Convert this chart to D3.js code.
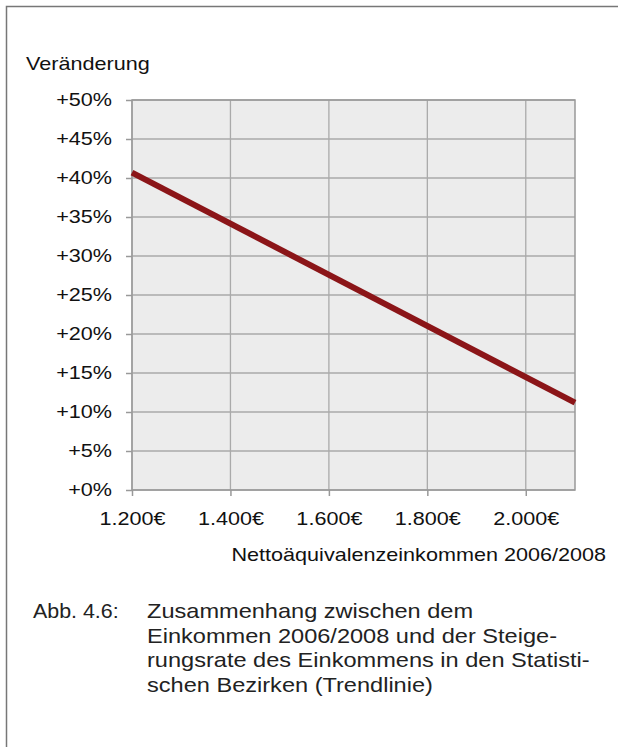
<!DOCTYPE html>
<html>
<head>
<meta charset="utf-8">
<script src="https://cdn.jsdelivr.net/npm/d3@7"></script>
<style>
  body { margin: 0; background: #fff; }
  svg { display: block; font-family: "Liberation Sans", Arial, sans-serif; }
</style>
</head>
<body>
<svg width="618" height="747"></svg>
<script>
// trendline end points (income in EUR, change in %)
const incomes = [1200, 2100];
const changes = [40.7, 11.2];
const xTicks = [1200, 1400, 1600, 1800, 2000];
const yTicks = [0, 5, 10, 15, 20, 25, 30, 35, 40, 45, 50];
const captionLines = [
  "Zusammenhang zwischen dem",
  "Einkommen 2006/2008 und der Steige-",
  "rungsrate des Einkommens in den Statisti-",
  "schen Bezirken (Trendlinie)"
];

const svg = d3.select("svg");
const margin = {top: 100, left: 132, right: 618 - 575, bottom: 747 - 490};
const width = 618 - margin.left - margin.right;
const height = 747 - margin.top - margin.bottom;
const SX = 1.2; // the original text is a bit wider than it is tall

// stretch text horizontally around its own x
function stretch(sel, k) {
  sel.each(function() {
    const t = d3.select(this);
    const tx = +t.attr("x") || 0;
    const ty = +t.attr("y") || 0;
    t.attr("x", 0).attr("y", 0)
     .attr("transform", "translate(" + tx + "," + ty + ") scale(" + k + ",1)");
  });
}

// outer frame (only left and top are visible in the crop)
svg.append("rect")
  .attr("x", 6.5).attr("y", 6.5)
  .attr("width", 640).attr("height", 780)
  .attr("fill", "none").attr("stroke", "#777").attr("stroke-width", 1.5);

const x = d3.scaleLinear().domain([1200, 2100]).range([0, width]);
const y = d3.scaleLinear().domain([0, 50]).range([height, 0]);

const g = svg.append("g").attr("transform", "translate(" + margin.left + "," + margin.top + ")");

g.append("rect").attr("width", width).attr("height", height).attr("fill", "#ececec");

// grid
g.selectAll(".hgrid").data(yTicks).enter().append("line")
  .attr("x1", 0).attr("x2", width)
  .attr("y1", d => y(d)).attr("y2", d => y(d))
  .attr("stroke", "#aaa").attr("stroke-width", 1.3);
g.selectAll(".vgrid").data(xTicks).enter().append("line")
  .attr("y1", 0).attr("y2", height)
  .attr("x1", d => x(d)).attr("x2", d => x(d))
  .attr("stroke", "#aaa").attr("stroke-width", 1.3);

g.append("rect").attr("width", width).attr("height", height)
  .attr("fill", "none").attr("stroke", "#999").attr("stroke-width", 1.5);

const fmtEuro = d => d3.format(",")(d).replace(",", ".") + "€";

const yAxis = g.append("g")
  .call(d3.axisLeft(y).tickValues(yTicks).tickSize(6).tickPadding(14)
    .tickFormat(d => "+" + d + "%"));
const xAxis = g.append("g")
  .attr("transform", "translate(0," + height + ")")
  .call(d3.axisBottom(x).tickValues(xTicks).tickSize(6).tickPadding(16).tickFormat(fmtEuro));

[yAxis, xAxis].forEach(a => {
  a.select(".domain").remove();
  a.selectAll(".tick line").attr("stroke", "#999").attr("stroke-width", 1.5);
  a.selectAll("text").attr("fill", "#111").style("font-size", "18px")
    .style("font-family", "Liberation Sans, Arial, sans-serif");
  stretch(a.selectAll("text"), SX);
});

// trendline
const line = d3.line().x((d, i) => x(incomes[i])).y(d => y(d));
g.append("path").datum(changes)
  .attr("d", line)
  .attr("fill", "none")
  .attr("stroke", "#8b1518")
  .attr("stroke-width", 6);

// labels
svg.append("text").attr("x", 26).attr("y", 70)
  .attr("font-size", 18).attr("fill", "#111").text("Veränderung")
  .call(stretch, SX);
svg.append("text").attr("x", 606).attr("y", 561)
  .attr("text-anchor", "end")
  .attr("font-size", 18).attr("fill", "#111").text("Nettoäquivalenzeinkommen 2006/2008")
  .call(stretch, SX);

// caption
svg.append("text").attr("x", 33).attr("y", 618)
  .attr("font-size", 20).attr("fill", "#222").text("Abb. 4.6:")
  .call(stretch, 1.07);
svg.selectAll(".cap").data(captionLines).enter().append("text")
  .attr("x", 147).attr("y", (d, i) => 618 + i * 24.5)
  .attr("font-size", 20.5).attr("fill", "#222").text(d => d)
  .call(stretch, 1.15);
</script>
</body>
</html>
